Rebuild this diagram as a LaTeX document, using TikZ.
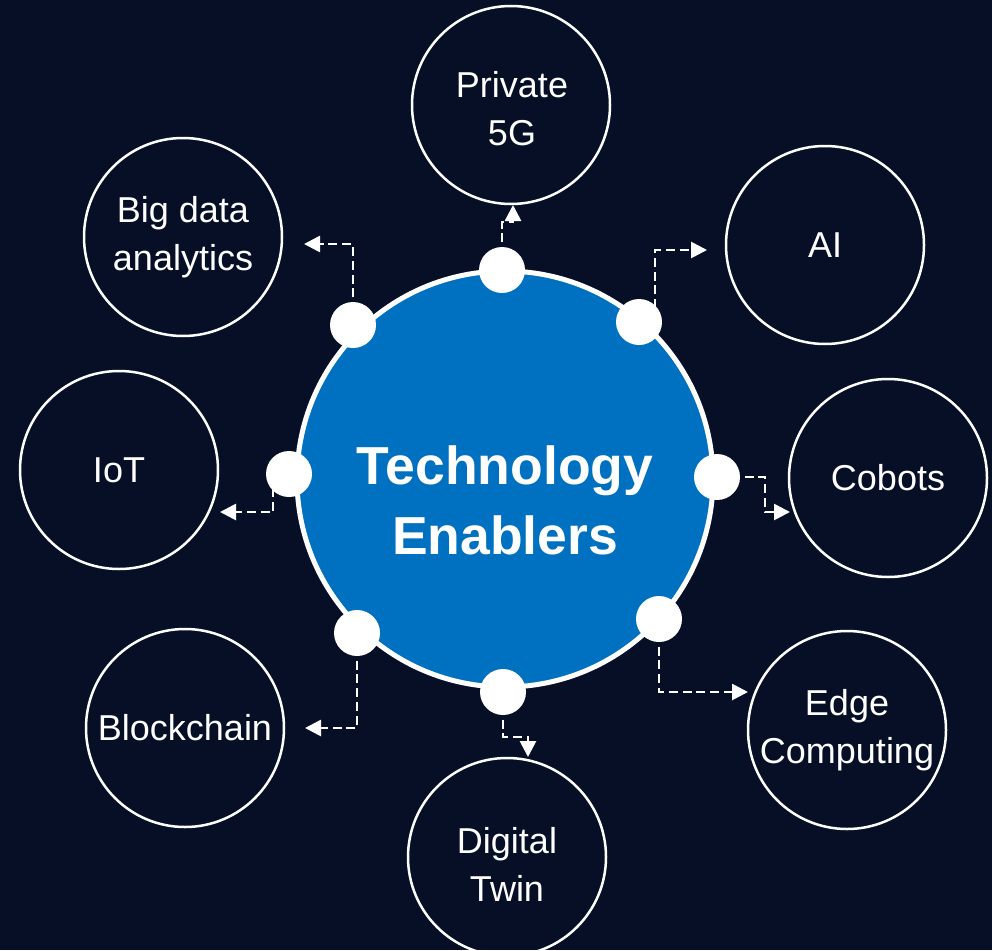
\documentclass[tikz,border=0pt]{standalone}
\usepackage{fontspec}
\setmainfont{Liberation Sans}
\usetikzlibrary{arrows.meta,calc}
\definecolor{bgnavy}{RGB}{6,15,38}
\definecolor{hubblue}{RGB}{0,112,192}
\begin{document}
\begin{tikzpicture}[x=1pt,y=-1pt,
  outer/.style={circle,draw=white,line width=2.5pt,minimum size=198pt,inner sep=0pt,text=white,align=center,font=\fontsize{36}{48}\selectfont},
  outertext/.style={text=white,align=center,inner sep=0pt,font=\fontsize{36}{48}\selectfont},
  hub/.style={circle,fill=hubblue,draw=white,line width=5pt,minimum size=416pt,inner sep=0pt},
  hubtext/.style={text=white,align=center,inner sep=0pt,font=\fontsize{53.5}{70}\selectfont\bfseries},
  hubdot/.style={circle,fill=white,minimum size=46pt,inner sep=0pt},
  conn/.style={draw=white,line width=2.7pt,dash pattern=on 9pt off 4.8pt,-{Triangle[length=16pt,width=16pt]}}]
\fill[bgnavy] (0,0) rectangle (992,950);
\useasboundingbox (0,0) rectangle (992,950);
% outer circles
\node[outer] (p5g) at (511,105) {};
\node[outertext] (p5gt) at (512,109) {Private\\5G};
\node[outer] (ai) at (825,245) {AI};
\node[outer] (cob) at (888,478) {Cobots};
\node[outer] (edge) at (847,730) {Edge\\Computing};
\node[outer] (dtw) at (507,857) {};
\node[outertext] (dtwt) at (507,864) {Digital\\Twin};
\node[outer] (blk) at (185,728) {Blockchain};
\node[outer] (iot) at (119,470) {IoT};
\node[outer] (bda) at (183,237) {Big data\\analytics};
% hub
\node[hub] (hub) at (505,479) {};
\node[hubtext] (hubt) at (505,500) {Technology\\Enablers};
% dot positions
\coordinate (c1) at (502,270);
\coordinate (c2) at (639,322);
\coordinate (c3) at (717,477);
\coordinate (c4) at (659,619);
\coordinate (c5) at (503,692);
\coordinate (c6) at (357,633);
\coordinate (c7) at (289,474);
\coordinate (c8) at (353,325);
% arrow ends
\coordinate (a1) at (513,205);
\coordinate (a2) at (707,250);
\coordinate (a3) at (790,512);
\coordinate (a4) at (748,692);
\coordinate (a5) at (528,757);
\coordinate (a6) at (305,728);
\coordinate (a7) at (220,512);
\coordinate (a8) at (304,244);
% connectors
\draw[conn] (c1) |- ($(a1)+(0,17)$) -- (a1);
\draw[conn] ($(c2)+(16,0)$) |- (a2);
\draw[conn] (c3) -| ($(a3)+(-25,0)$) -- (a3);
\draw[conn] (c4) |- (a4);
\draw[conn] (c5) |- ($(a5)+(0,-20)$) -- (a5);
\draw[conn] (c6) |- (a6);
\draw[conn] ($(c7)+(-16,0)$) |- (a7);
\draw[conn] (c8) |- (a8);
% dots
\foreach \i in {1,...,8} {\node[hubdot] (d\i) at (c\i) {};}
\end{tikzpicture}
\end{document}
